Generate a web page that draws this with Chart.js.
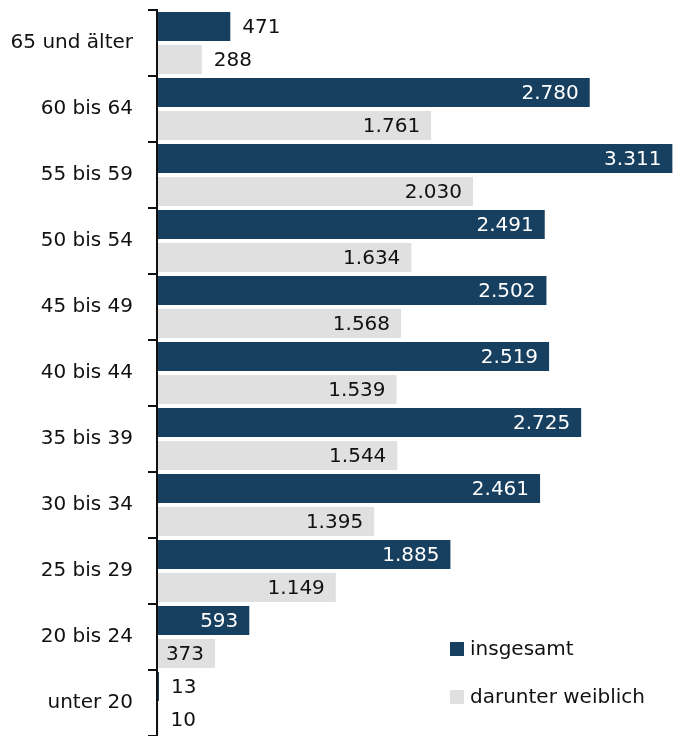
<!DOCTYPE html>
<html lang="de">
<head>
<meta charset="UTF-8">
<title>Altersgruppen</title>
<script src="https://cdn.jsdelivr.net/npm/chart.js"></script>
<style>
  html, body { margin: 0; padding: 0; background: #fff; }
  #wrap { width: 680px; height: 736px; }
</style>
</head>
<body>
<div id="wrap"><canvas id="chart"></canvas></div>
<script>
// Daten
const categories = ['65 und älter', '60 bis 64', '55 bis 59', '50 bis 54', '45 bis 49',
  '40 bis 44', '35 bis 39', '30 bis 34', '25 bis 29', '20 bis 24', 'unter 20'];
const insgesamt = [471, 2780, 3311, 2491, 2502, 2519, 2725, 2461, 1885, 593, 13];
const weiblich = [288, 1761, 2030, 1634, 1568, 1539, 1544, 1395, 1149, 373, 10];
const seriesNames = ['insgesamt', 'darunter weiblich'];

const dunkel = '#173f5f';
const hell = '#e0e0e0';
const familie = '"DejaVu Sans", "Noto Sans", sans-serif';
const schrift = '20px ' + familie;

function fmt(v) {
  return String(v).replace(/\B(?=(\d{3})+(?!\d))/g, '.');
}

// Werte an den Balken: ab einer Mindestlänge innen, sonst außen
const valueLabels = {
  id: 'valueLabels',
  afterDatasetsDraw(chart) {
    const ctx = chart.ctx;
    ctx.save();
    ctx.font = schrift;
    ctx.textBaseline = 'middle';
    chart.data.datasets.forEach((ds, di) => {
      const minLen = di === 0 ? 85 : 55;
      chart.getDatasetMeta(di).data.forEach((bar, i) => {
        const txt = fmt(ds.data[i]);
        const len = bar.x - bar.base;
        if (len >= minLen) {
          ctx.textAlign = 'right';
          ctx.fillStyle = di === 0 ? '#ffffff' : '#111111';
          ctx.fillText(txt, bar.x - 11, bar.y + 1);
        } else {
          ctx.textAlign = 'left';
          ctx.fillStyle = '#111111';
          ctx.fillText(txt, bar.x + 12, bar.y + 1);
        }
      });
    });
    ctx.restore();
  }
};

// Legende unten rechts
const legendBox = {
  id: 'legendBox',
  afterDraw(chart) {
    const ctx = chart.ctx;
    ctx.save();
    ctx.font = schrift;
    ctx.textBaseline = 'middle';
    ctx.textAlign = 'left';
    const x = 450;
    const ys = [649, 697];
    chart.data.datasets.forEach((ds, i) => {
      ctx.fillStyle = ds.backgroundColor;
      ctx.fillRect(x, ys[i] - 7, 14, 14);
      ctx.fillStyle = '#111111';
      ctx.fillText(seriesNames[i], x + 20, ys[i] + 1);
    });
    ctx.restore();
  }
};

new Chart(document.getElementById('chart'), {
  type: 'bar',
  data: {
    labels: categories,
    datasets: [
      { label: seriesNames[0], data: insgesamt, backgroundColor: dunkel,
        barPercentage: 0.88, categoryPercentage: 1 },
      { label: seriesNames[1], data: weiblich, backgroundColor: hell,
        barPercentage: 0.88, categoryPercentage: 1 }
    ]
  },
  options: {
    indexAxis: 'y',
    responsive: true,
    maintainAspectRatio: false,
    animation: false,
    layout: { padding: { top: 10, right: 0, bottom: 0, left: 0 } },
    plugins: {
      legend: { display: false },
      tooltip: { enabled: false }
    },
    scales: {
      x: {
        display: false,
        min: 0,
        max: 3360
      },
      y: {
        offset: true,
        afterFit(scale) {
          scale.width = 157;
          scale.paddingTop = 0;
          scale.paddingBottom = 0;
        },
        border: { display: true, color: '#111111', width: 2, z: 1 },
        grid: {
          offset: true,
          drawOnChartArea: false,
          drawTicks: true,
          tickLength: 9,
          color: '#111111',
          lineWidth: 2
        },
        ticks: {
          color: '#111111',
          padding: 15,
          font: { family: familie, size: 20 }
        }
      }
    }
  },
  plugins: [valueLabels, legendBox]
});
</script>
</body>
</html>
